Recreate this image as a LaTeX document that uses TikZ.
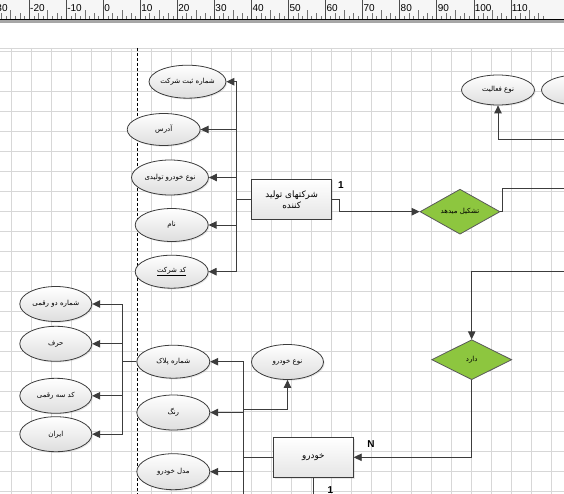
\documentclass[tikz,border=0pt]{standalone}
\usepackage{fontspec}
\setmainfont{Liberation Sans}
\newfontfamily\arabicfont[Script=Arabic]{DejaVu Sans}
\TeXXeTstate=1
\usetikzlibrary{shapes.geometric,arrows.meta,shadows}

\definecolor{gridc}{RGB}{215,215,215}
\definecolor{linec}{RGB}{60,60,60}
\definecolor{relgreen}{RGB}{141,198,63}
\definecolor{rulerbg}{RGB}{246,246,246}

\newcommand{\fa}[1]{\beginR #1\endR}

\tikzset{
  attr/.style={ellipse, draw=linec, line width=0.8pt, top color=white, bottom color=black!13,
    minimum width=73pt, minimum height=33pt, inner sep=0pt,
    font=\arabicfont\fontsize{7}{8.5}\selectfont,
    drop shadow={opacity=0.18, shadow xshift=1.2pt, shadow yshift=-1.2pt}},
  ent/.style={rectangle, draw=linec, line width=0.8pt, top color=white, bottom color=black!10,
    minimum width=80pt, minimum height=40pt, inner sep=0pt, align=center,
    font=\arabicfont\fontsize{8.8}{11}\selectfont,
    drop shadow={opacity=0.18, shadow xshift=1.2pt, shadow yshift=-1.2pt}},
  rel/.style={diamond, draw=black!65, line width=0.8pt, fill=relgreen,
    minimum width=80pt, minimum height=40pt, inner sep=0pt,
    font=\arabicfont\fontsize{7}{8.5}\selectfont},
  conn/.style={draw=linec, line width=0.9pt},
  arr/.style={conn, -{Triangle[length=8pt,width=7.5pt]}},
  card/.style={font=\bfseries\fontsize{10}{11}\selectfont, inner sep=0pt},
  rulerlab/.style={anchor=west, font=\fontsize{10}{11}\selectfont, inner sep=0pt},
}

\begin{document}
\begin{tikzpicture}[x=1pt,y=-1pt]
\clip (0,0) rectangle (564,494);
\fill[white] (0,0) rectangle (564,494);

% ruler
\fill[rulerbg] (0,0) rectangle (564,20);
\foreach \k in {-3,...,11}{
  \pgfmathsetmacro\xx{103.3+37.05*\k}
  \pgfmathtruncatemacro\lab{\k*10}
  \draw[black!70, line width=0.6pt] (\xx,0) -- (\xx,20);
  \node[rulerlab] at (\xx+0.8,8) {\lab};
  \foreach \j in {1,...,7}{
    \pgfmathsetmacro\mx{\xx+37.05*\j/8}
    \pgfmathsetmacro\len{ifthenelse(\j==4,10,ifthenelse(mod(\j,2)==0,7,4))}
    \draw[black!55, line width=0.5pt] (\mx,20) -- (\mx,20-\len);
  }
}
\draw[black, line width=1pt] (0,20) -- (564,20);
\fill[black!35] (0,20.5) rectangle (564,23);

% grid
\foreach \i in {0,...,28}{
  \draw[gridc, line width=0.7pt] (11.7+20*\i,48) -- (11.7+20*\i,494);
}
\foreach \j in {2,...,24}{
  \draw[gridc, line width=0.7pt] (0,11.7+20*\j) -- (564,11.7+20*\j);
}
\draw[gridc, line width=0.7pt] (0,48) -- (564,48);

% dashed separator
\draw[black, line width=0.8pt, dash pattern=on 3pt off 2pt] (137.3,48) -- (137.3,494);

% company attributes
\node[attr] (a1) at (187.5,81.7) {\fa{شماره ثبت شرکت}};
\node[attr, minimum height=32pt] (a2) at (163.7,129.5) {\fa{آدرس}};
\node[attr, minimum width=77pt, minimum height=35pt] (a3) at (170,177.5) {\fa{نوع خودرو تولیدی}};
\node[attr] (a4) at (171.7,225) {\fa{نام}};
\node[attr] (a5) at (171.7,271.7) {\underline{\fa{کد شرکت}}};

\node[ent] (ent1) at (291.7,199.3) {\fa{شرکتهای تولید}\\\fa{کننده}};
\node[rel] (rel1) at (460,211.7) {\fa{تشکیل میدهد}};

\node[attr, minimum height=30pt] (act) at (498,90) {\fa{نوع فعالیت}};
\node[attr, minimum height=30pt] (actb) at (578,90) {};

\node[rel] (rel2) at (471.7,359.7) {\fa{دارد}};
\node[ent] (ent2) at (313.3,457.3) {\fa{خودرو}};

% vehicle attributes
\node[attr, minimum width=72pt, minimum height=35pt] (vtype) at (287.5,362) {\fa{نوع خودرو}};
\node[attr] (plate) at (173.3,361.7) {\fa{شماره پلاک}};
\node[attr, minimum height=35pt] (color) at (173.3,412.5) {\fa{رنگ}};
\node[attr, minimum height=36pt] (model) at (173.3,471.7) {\fa{مدل خودرو}};

% plate parts
\node[attr, minimum width=72pt, minimum height=35pt] (p1) at (55.8,304) {\fa{شماره دو رقمی}};
\node[attr, minimum width=72pt, minimum height=35pt] (p2) at (55.8,343.8) {\fa{حرف}};
\node[attr, minimum width=72pt, minimum height=35pt] (p3) at (55.8,395.8) {\fa{کد سه رقمی}};
\node[attr, minimum width=72pt, minimum height=35pt] (p4) at (55.8,434.2) {\fa{ایران}};

% cardinalities
\node[card] (c1lab) at (341,185) {1};
\node[card] (nlab) at (371,444) {N};
\node[card] (c2lab) at (330.5,490) {1};

% coordinates
\coordinate (t1) at (236,199.3);
\coordinate (t2) at (243.3,457.3);
\coordinate (t2b) at (243.3,500);
\coordinate (t3) at (243.3,409.3);
\coordinate (t4) at (122.7,361.7);
\coordinate (e1) at (570,188.3);
\coordinate (e2) at (570,139.3);
\coordinate (e3) at (570,271.7);
\coordinate (e4) at (313.3,500);

% connectors: company
\draw[conn] (ent1.west) -- (t1);
\foreach \n in {a1,a2,a3,a4,a5}{ \draw[arr] (t1) |- (\n.east); }
\draw[arr] (ent1.east) -- ++(7.6,0) |- (rel1.west);
\draw[conn] (rel1.east) -- ++(1.7,0) |- (e1);
\draw[arr] (e2) -| (act.south);
\draw[arr] (e3) -| (rel2.north);
\draw[arr] (rel2.south) |- (ent2.east);
\draw[conn] (ent2.south) -- (e4);

% connectors: vehicle
\draw[conn] (ent2.west) -- (t2);
\draw[conn] (t2) -- (t2b);
\foreach \n in {plate,color,model}{ \draw[arr] (t2) |- (\n.east); }
\draw[arr] (t3) -| (vtype.south);

% connectors: plate parts
\draw[conn] (plate.west) -- (t4);
\foreach \n in {p1,p2,p3,p4}{ \draw[arr] (t4) |- (\n.east); }
\end{tikzpicture}
\end{document}
